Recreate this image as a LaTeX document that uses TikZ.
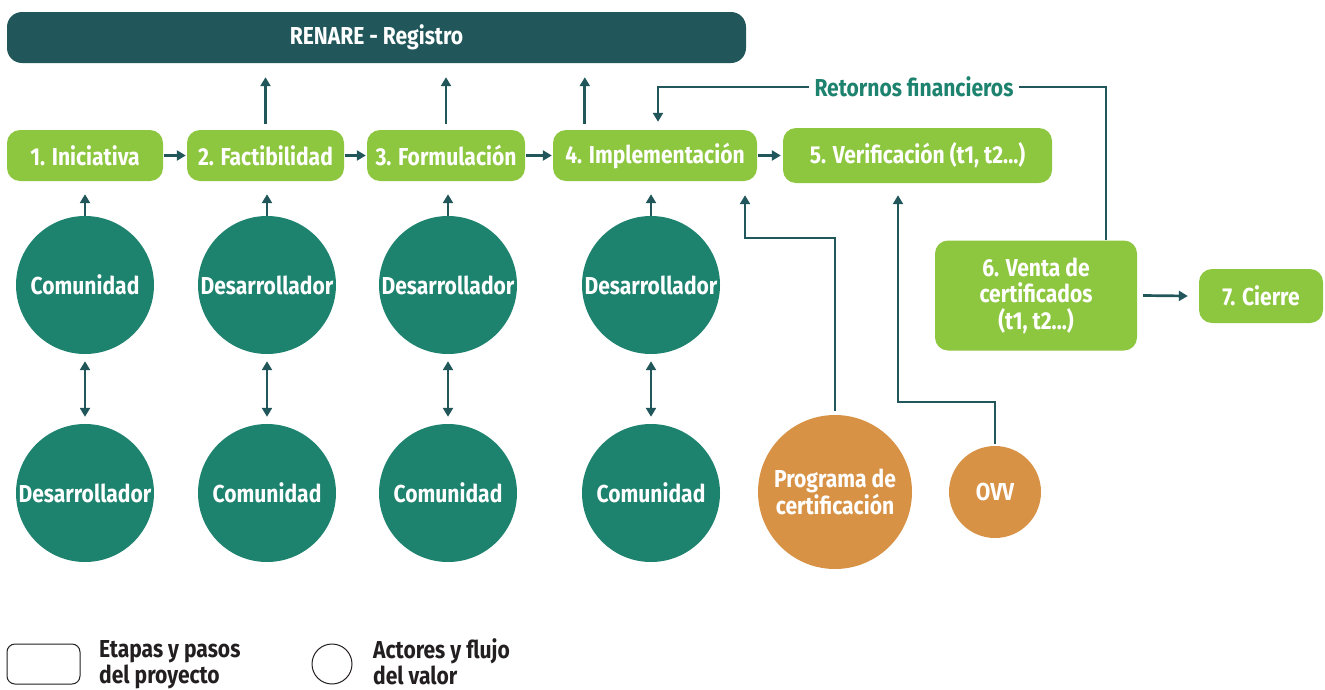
\documentclass[tikz,border=0pt]{standalone}
\usepackage{fontspec}
\setmainfont{Fira Sans}[FakeStretch=0.86]
\usetikzlibrary{arrows.meta,calc}
\definecolor{dteal}{RGB}{33,87,90}
\definecolor{cteal}{RGB}{29,130,110}
\definecolor{lgreen}{RGB}{141,198,63}
\definecolor{orng}{RGB}{216,146,70}
\definecolor{ltext}{RGB}{35,31,32}
\newcommand\mylbl{\bfseries\fontsize{24.5}{26.5}\selectfont}
\begin{document}
\begin{tikzpicture}[x=1pt,y=-1pt,
  stage/.style={rounded corners=13pt, fill=lgreen, text=white, font=\mylbl, inner sep=0pt, minimum height=51pt, align=center},
  actor/.style={circle, fill=cteal, text=white, font=\mylbl, inner sep=0pt, minimum size=138pt, align=center},
  extactor/.style={circle, fill=orng, text=white, font=\mylbl, inner sep=0pt, align=center},
  arr/.style={draw=dteal, line width=2.7pt, -{Triangle[length=9pt,width=10pt]}},
  darr/.style={draw=dteal, line width=2.7pt, {Triangle[length=9pt,width=10pt]}-{Triangle[length=9pt,width=10pt]}},
  conn/.style={draw=dteal, line width=2.7pt},
  legtext/.style={text=ltext, font=\mylbl, anchor=west, align=left, inner sep=0pt},
]
\useasboundingbox (0,0) rectangle (1325,689);
% registry bar
\node[fill=dteal, rounded corners=15pt, minimum width=739pt, minimum height=51pt, text=white, font=\mylbl, inner sep=0pt] (bar) at (376.5,37.5) {RENARE - Registro};
% stages
\node[stage, minimum width=156pt] (s1) at (85,155.5) {1. Iniciativa};
\node[stage, minimum width=157pt] (s2) at (265.5,155.5) {2. Factibilidad};
\node[stage, minimum width=158pt] (s3) at (446,155.5) {3. Formulación};
\node[stage, minimum width=204pt] (s4) at (655,155.5) {4. Implementación};
\node[stage, minimum width=269pt, minimum height=55pt] (s5) at (917.5,155.5) {5. Verificación (t1, t2...)};
\node[stage, minimum width=202pt, minimum height=110pt] (s6) at (1036,295.5) {6. Venta de\\certificados\\(t1, t2...)};
\node[stage, minimum width=124pt, minimum height=54pt] (s7) at (1261,296) {7. Cierre};
% actors
\node[actor] (a1) at (85,285) {Comunidad};
\node[actor] (a2) at (267,285) {Desarrollador};
\node[actor] (a3) at (448,285) {Desarrollador};
\node[actor] (a4) at (651,285) {Desarrollador};
\node[actor] (b1) at (85,493) {Desarrollador};
\node[actor] (b2) at (267,493) {Comunidad};
\node[actor] (b3) at (448,493) {Comunidad};
\node[actor] (b4) at (651,493) {Comunidad};
\node[extactor, minimum size=154pt] (p) at (835,492) {Programa de\\certificación};
\node[extactor, minimum size=92pt] (o) at (995,492) {OVV};
% stage flow
\draw[arr] ([xshift=1pt]s1.east) -- ([xshift=-1pt]s2.west);
\draw[arr] ([xshift=1pt]s2.east) -- ([xshift=-1pt]s3.west);
\draw[arr] ([xshift=1pt]s3.east) -- ([xshift=-1pt]s4.west);
\draw[arr] ([xshift=1pt]s4.east) -- ([xshift=-2pt]s5.west);
\draw[arr] ([xshift=6pt]s6.east) -- ([xshift=-11pt]s7.west);
% up to registry
\draw[arr] ([yshift=6pt]s2.north) -- ([yshift=-14pt]s2.north |- bar.south);
\draw[arr] ([yshift=6pt]s3.north) -- ([yshift=-14pt]s3.north |- bar.south);
\draw[arr] ([xshift=32pt,yshift=6pt]s4.north west) -- ([xshift=32pt,yshift=-14pt]s4.north west |- bar.south);
% actors to stages
\draw[arr] (a1.north) -- ([yshift=-13pt]a1.north |- s1.south);
\draw[arr] (a2.north) -- ([yshift=-13pt]a2.north |- s2.south);
\draw[arr] (a3.north) -- ([yshift=-13pt]a3.north |- s3.south);
\draw[arr] (a4.north) -- ([yshift=-13pt]a4.north |- s4.south);
\draw[darr] ([yshift=-7pt]a1.south) -- ([yshift=7pt]b1.north);
\draw[darr] ([yshift=-7pt]a2.south) -- ([yshift=7pt]b2.north);
\draw[darr] ([yshift=-7pt]a3.south) -- ([yshift=7pt]b3.north);
\draw[darr] ([yshift=-7pt]a4.south) -- ([yshift=7pt]b4.north);
% certification program and OVV
\coordinate (pk) at (745,238);
\draw[arr] ([yshift=4pt]p.north) |- (pk) -- ([yshift=-14pt]pk |- s4.south);
\coordinate (ok) at (898,402);
\draw[arr] ([yshift=2pt]o.north) |- (ok) -- ([yshift=-12pt]ok |- s5.south);
% financial returns
\node[text=cteal, font=\mylbl, inner sep=5pt] (ret) at (914,87) {Retornos financieros};
\coordinate (rk) at (1106,87);
\coordinate (lk) at (658,87);
\draw[conn] (rk |- s6.north) -- (rk) -- (ret.east);
\draw[arr] (ret.west) -- (lk) -- ([yshift=8pt]lk |- s4.north);
% legend
\node[draw=ltext, line width=1pt, rounded corners=8pt, minimum width=73pt, minimum height=40pt, inner sep=0pt] (lg1) at (43.5,664) {};
\node[legtext] (lt1) at (99,664.5) {Etapas y pasos\\del proyecto};
\node[draw=ltext, line width=1pt, circle, minimum size=40pt, inner sep=0pt] (lg2) at (332,664) {};
\node[legtext] (lt2) at (373,664.5) {Actores y flujo\\del valor\vphantom{py}};
\end{tikzpicture}
\end{document}
